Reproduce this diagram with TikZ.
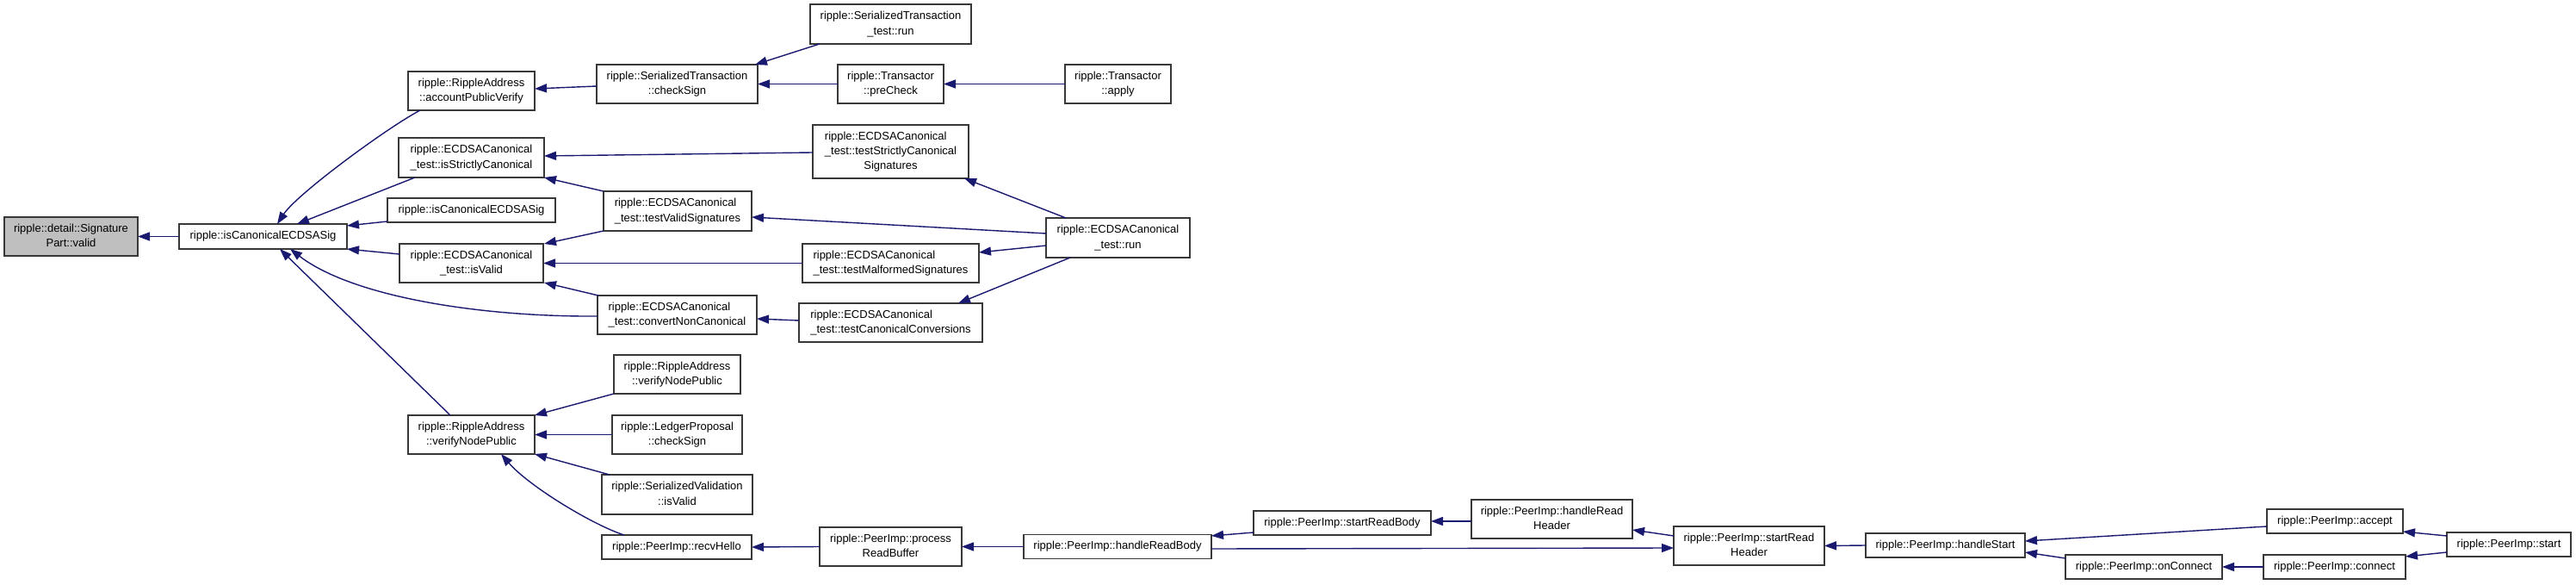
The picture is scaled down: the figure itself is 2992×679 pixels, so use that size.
\documentclass[tikz,border=0pt]{standalone}
\usepackage{fontspec}
\setmainfont{Liberation Sans}
\usetikzlibrary{arrows.meta}
\definecolor{edgec}{HTML}{191970}
\definecolor{boxc}{HTML}{383838}
\definecolor{fillg}{HTML}{BFBFBF}
\newcommand\twoln[2]{\begin{tabular}{@{}l@{}}#1\\\multicolumn{1}{@{}c@{}}{#2}\end{tabular}}
\newcommand\threeln[3]{\begin{tabular}{@{}l@{}}#1\\#2\\\multicolumn{1}{@{}c@{}}{#3}\end{tabular}}
\begin{document}
\begin{tikzpicture}[x=0.5pt,y=-0.5pt,
  nb/.style={draw=boxc, line width=0.8pt, fill=white, inner sep=0pt, outer sep=0pt,
             font=\fontsize{6.5}{8.7}\selectfont},
  wh/.style 2 args={minimum width=#1*0.5pt, minimum height=#2*0.5pt},
  ed/.style={draw=edgec, line width=0.7pt, -{Triangle[length=7pt,width=5pt]}}]
\useasboundingbox (0,0) rectangle (2992,679);
% rank 0
\node[nb,wh={155}{45},fill=fillg] (valid) at (82.5,274.5) {\twoln{ripple::detail::Signature}{Part::valid}};
% rank 1
\node[nb,wh={195}{29}] (isCanon) at (305.5,274.5) {ripple::isCanonicalECDSASig};
% rank 2
\node[nb,wh={147}{45}] (accPV) at (547.5,105.5) {\twoln{ripple::RippleAddress}{::accountPublicVerify}};
\node[nb,wh={169}{46}] (isSC) at (547.5,183) {\twoln{ripple::ECDSACanonical}{\_test::isStrictlyCanonical}};
\node[nb,wh={195}{28}] (isCanon2) at (547.5,244) {ripple::isCanonicalECDSASig};
\node[nb,wh={167}{45}] (isValid) at (547.5,305.5) {\twoln{ripple::ECDSACanonical}{\_test::isValid}};
\node[nb,wh={147}{45}] (vNP) at (547.5,504.5) {\twoln{ripple::RippleAddress}{::verifyNodePublic}};
% rank 3
\node[nb,wh={187}{45}] (checkSign) at (786.5,97.5) {\twoln{ripple::SerializedTransaction}{::checkSign}};
\node[nb,wh={172}{46}] (tVS) at (787,245) {\twoln{ripple::ECDSACanonical}{\_test::testValidSignatures}};
\node[nb,wh={185}{45}] (convNC) at (786.5,365.5) {\twoln{ripple::ECDSACanonical}{\_test::convertNonCanonical}};
\node[nb,wh={147}{45}] (vNP2) at (786.5,434.5) {\twoln{ripple::RippleAddress}{::verifyNodePublic}};
\node[nb,wh={151}{45}] (LP) at (786.5,504.5) {\twoln{ripple::LedgerProposal}{::checkSign}};
\node[nb,wh={175}{46}] (SV) at (786.5,574) {\twoln{ripple::SerializedValidation}{::isValid}};
\node[nb,wh={174}{28}] (recvHello) at (786,635) {ripple::PeerImp::recvHello};
% rank 4
\node[nb,wh={187}{46}] (STrun) at (1034.5,28) {\twoln{ripple::SerializedTransaction}{\_test::run}};
\node[nb,wh={123}{45}] (preCheck) at (1034.5,97.5) {\twoln{ripple::Transactor}{::preCheck}};
\node[nb,wh={181}{62}] (tSCS) at (1034.5,176) {\threeln{ripple::ECDSACanonical}{\_test::testStrictlyCanonical}{Signatures}};
\node[nb,wh={205}{45}] (tMS) at (1034.5,305.5) {\twoln{ripple::ECDSACanonical}{\_test::testMalformedSignatures}};
\node[nb,wh={213}{45}] (tCC) at (1034.5,374.5) {\twoln{ripple::ECDSACanonical}{\_test::testCanonicalConversions}};
\node[nb,wh={165}{45}] (procRB) at (1034.5,634.5) {\twoln{ripple::PeerImp::process}{ReadBuffer}};
% rank 5
\node[nb,wh={123}{45}] (apply) at (1298.5,97.5) {\twoln{ripple::Transactor}{::apply}};
\node[nb,wh={167}{46}] (ECrun) at (1298.5,276) {\twoln{ripple::ECDSACanonical}{\_test::run}};
\node[nb,wh={218}{28}] (hRB) at (1298,634.5) {ripple::PeerImp::handleReadBody};
% further ranks
\node[nb,wh={206}{28}] (sRB) at (1559,607) {ripple::PeerImp::startReadBody};
\node[nb,wh={187}{45}] (hRH) at (1802.5,602.5) {\twoln{ripple::PeerImp::handleRead}{Header}};
\node[nb,wh={175}{45}] (sRH) at (2031.5,633.5) {\twoln{ripple::PeerImp::startRead}{Header}};
\node[nb,wh={185}{28}] (hStart) at (2259.5,633) {ripple::PeerImp::handleStart};
\node[nb,wh={182}{28}] (onConnect) at (2490,658) {ripple::PeerImp::onConnect};
\node[nb,wh={158}{28}] (accept) at (2712,605) {ripple::PeerImp::accept};
\node[nb,wh={165}{28}] (connect) at (2711.5,658) {ripple::PeerImp::connect};
\node[nb,wh={144}{28}] (start) at (2914,632) {ripple::PeerImp::start};
% edges
\draw[ed] (isCanon.west) -- (valid.east);
\draw[ed] ([shift={(14,0)}]accPV.south west) .. controls (450,148) and (345,225) .. ([shift={(16.5,0)}]isCanon.north);
\draw[ed] ([shift={(-65.5,0)}]isSC.south) -- ([shift={(39.5,0)}]isCanon.north);
\draw[ed] ([shift={(0,13)}]isCanon2.west) -- ([shift={(0,-12.5)}]isCanon.east);
\draw[ed] ([shift={(0,-10.5)}]isValid.west) -- (isCanon.south east);
\draw[ed] ([shift={(0,1.5)}]convNC.west) .. controls (560,368) and (410,345) .. ([shift={(31.5,0)}]isCanon.south);
\draw[ed] ([shift={(-24.5,0)}]vNP.north) -- ([shift={(19.5,0)}]isCanon.south);
\draw[ed] ([shift={(0,2.5)}]checkSign.west) -- ([shift={(0,-2.5)}]accPV.east);
\draw[ed] ([shift={(11,0)}]STrun.south west) -- ([shift={(-3,0)}]checkSign.north east);
\draw[ed] (preCheck.west) -- (checkSign.east);
\draw[ed] (apply.west) -- (preCheck.east);
\draw[ed] ([shift={(0,1)}]tSCS.west) -- ([shift={(0,-2)}]isSC.east);
\draw[ed] (tVS.north west) -- (isSC.south east);
\draw[ed] (tVS.south west) -- ([shift={(1,0)}]isValid.north east);
\draw[ed] (tMS.west) -- (isValid.east);
\draw[ed] ([shift={(1,0)}]convNC.north west) -- ([shift={(1,0)}]isValid.south east);
\draw[ed] ([shift={(0,-2.5)}]tCC.west) -- ([shift={(0,4.5)}]convNC.east);
\draw[ed] (vNP2.south west) -- (vNP.north east);
\draw[ed] (LP.west) -- (vNP.east);
\draw[ed] ([shift={(9,0)}]SV.north west) -- (vNP.south east);
\draw[ed] ([shift={(26,0)}]recvHello.north west) .. controls (690,610) and (615,565) .. ([shift={(34.5,0)}]vNP.south);
\draw[ed] ([shift={(23,0)}]ECrun.north west) -- ([shift={(-5,0)}]tSCS.south east);
\draw[ed] ([shift={(0,-5)}]ECrun.west) -- ([shift={(0,7)}]tVS.east);
\draw[ed] ([shift={(0,9)}]ECrun.west) -- ([shift={(0,-12.5)}]tMS.east);
\draw[ed] ([shift={(28,0)}]ECrun.south west) -- ([shift={(78.5,0)}]tCC.north);
\draw[ed] (procRB.west) -- (recvHello.east);
\draw[ed] (hRB.west) -- (procRB.east);
\draw[ed] ([shift={(0,11)}]sRB.west) -- ([shift={(0,-12.5)}]hRB.east);
\draw[ed] ([shift={(0,2.5)}]hRH.west) -- ([shift={(0,-2)}]sRB.east);
\draw[ed] ([shift={(0,-11.5)}]sRH.west) -- ([shift={(0,12.5)}]hRH.east);
\draw[ed] ([shift={(0,2.5)}]hRB.east) -- ([shift={(0,2.5)}]sRH.west);
\draw[ed] (hStart.west) -- (sRH.east);
\draw[ed] ([shift={(0,6)}]accept.west) -- ([shift={(0,-5)}]hStart.east);
\draw[ed] ([shift={(0,-10)}]onConnect.west) -- ([shift={(0,8)}]hStart.east);
\draw[ed] (connect.west) -- (onConnect.east);
\draw[ed] ([shift={(0,-10)}]start.west) -- ([shift={(0,12)}]accept.east);
\draw[ed] ([shift={(0,9)}]start.west) -- ([shift={(0,-12)}]connect.east);
\end{tikzpicture}
\end{document}
